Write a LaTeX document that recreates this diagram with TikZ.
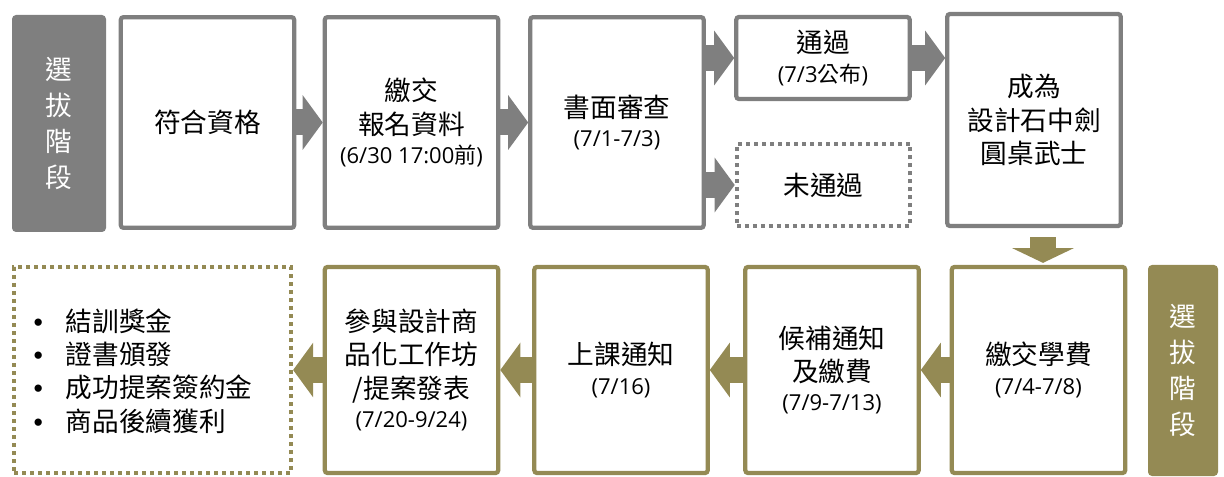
\documentclass[tikz,border=0pt]{standalone}
\usepackage{fontspec}
\setmainfont{Noto Sans CJK TC}
\newfontfamily\latinfont{Open Sans}
\newfontfamily\bulletfont{Liberation Sans}
\usetikzlibrary{arrows.meta}
\definecolor{stagegray}{RGB}{127,127,127}
\definecolor{stageolive}{RGB}{148,138,84}
\newcommand{\datefont}{\fontsize{16.5}{19}\selectfont\latinfont}
\newcommand{\cjkchar}[1]{{\fontspec{Noto Sans CJK TC}#1}}
\newcommand{\bul}{{\bulletfont •}\hspace{17pt}}

\begin{document}
\begin{tikzpicture}[x=0.75pt, y=-0.75pt,
    box/.style={draw, line width=3.2pt, rounded corners=2pt, fill=white, inner sep=0pt,
                minimum width=130pt, minimum height=158pt},
    grbox/.style={box, draw=stagegray},
    olbox/.style={box, draw=stageolive, minimum height=154.5pt},
    dotbox/.style={line cap=butt, dash pattern=on 3pt off 3pt, rounded corners=0pt},
    tag/.style={rounded corners=3pt, inner sep=0pt, text=white, align=center,
                font=\fontsize{20}{27}\selectfont},
    label/.style={align=center, font=\fontsize{20}{25}\selectfont, text=black},
    garrow/.style={stagegray, line width=19.5pt, -{Triangle[width=41pt, length=15pt, line width=0pt]}},
    oarrow/.style={garrow, stageolive}]
    \useasboundingbox (0,0) rectangle (1224,477);

    % 選拔階段
    \node[tag, fill=stagegray, minimum width=70.5pt, minimum height=162.75pt] (tag1) at (59,123.5) {選\\拔\\階\\段};
    \node[grbox] (qual) at (207.5,122.5) {};
    \node[grbox] (submit) at (411.5,122.5) {};
    \node[grbox] (review) at (617,122.5) {};
    \node[grbox, minimum height=61.5pt] (pass) at (823,58) {};
    \node[grbox, dotbox, minimum height=61.5pt] (fail) at (823.5,185) {};
    \node[grbox, minimum height=159pt] (knight) at (1034,120) {};

    % 培訓階段
    \node[tag, fill=stageolive, minimum width=52.5pt, minimum height=158.25pt] (tag2) at (1183,370.5) {選\\拔\\階\\段};
    \node[olbox] (fee) at (1038.5,370) {};
    \node[olbox] (wait) at (832,370) {};
    \node[olbox] (notice) at (621,370) {};
    \node[olbox] (work) at (411.5,370) {};
    \node[olbox, dotbox, minimum width=207.75pt] (reward) at (152.5,370) {};

    % 箭頭
    \draw[garrow] (qual.east) -- (submit.west);
    \draw[garrow] (submit.east) -- (review.west);
    \draw[garrow] (review.east |- pass.west) -- (pass.west);
    \draw[garrow] (review.east |- fail.west) -- (fail.west);
    \draw[garrow] (pass.east) -- (pass.east -| knight.west);
    \draw[oarrow, line width=20pt, -{Triangle[width=46pt, length=11pt, line width=0pt]}]
        ([shift={(9,9)}]knight.south) -- ([shift={(4.5,-2)}]fee.north);
    \draw[oarrow] (fee.west) -- (wait.east);
    \draw[oarrow] (wait.west) -- (notice.east);
    \draw[oarrow] (notice.west) -- (work.east);
    \draw[oarrow] (work.west) -- (reward.east);

    % 文字
    \node[label] (t1) at (qual) {符合資格};
    \node[label] (t2) at (submit) {繳交\\報名資料\\[-3pt]{\datefont (6/30 17:00\cjkchar{前})}};
    \node[label] (t3) at (review) {書面審查\\[-3pt]{\datefont (7/1-7/3)}};
    \node[label] (t4) at (pass) {通過\\[-3pt]{\datefont (7/3\cjkchar{公布})}};
    \node[label] (t5) at (fail) {未通過};
    \node[label] (t6) at (knight) {成為\\設計石中劍\\圓桌武士};
    \node[label] (t7) at (fee) {繳交學費\\[-3pt]{\datefont (7/4-7/8)}};
    \node[label] (t8) at (wait) {候補通知\\及繳費\\[-3pt]{\datefont (7/9-7/13)}};
    \node[label] (t9) at (notice) {上課通知\\[-3pt]{\datefont (7/16)}};
    \node[label] (t10) at (work) {參與設計商\\品化工作坊\\/提案發表\\[-3pt]{\datefont (7/20-9/24)}};
    \node[label, align=left] (t11) at (143,371) {\bul 結訓獎金\\\bul 證書頒發\\\bul 成功提案簽約金\\\bul 商品後續獲利};

\end{tikzpicture}
\end{document}
